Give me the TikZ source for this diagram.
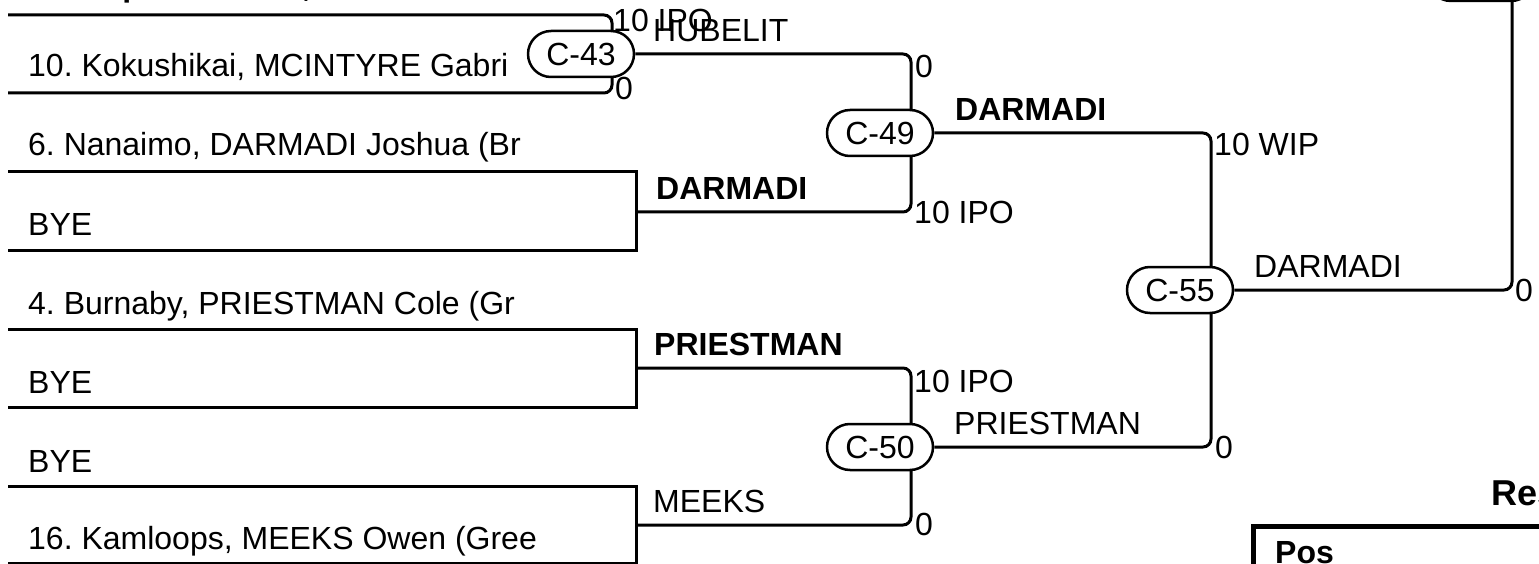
\documentclass[tikz,border=0pt]{standalone}
\usepackage{fontspec}
\setmainfont{Liberation Sans}
\usetikzlibrary{backgrounds}
\frenchspacing
\begin{document}
\begin{tikzpicture}[x=1pt,y=-1pt,
  txt/.style={anchor=base west,inner sep=0pt,font=\fontsize{32}{36}\selectfont},
  winbold/.style={txt,font=\fontsize{32}{36}\selectfont\bfseries},
  wire/.style={line width=3pt},
  fight/.style={draw,line width=2.5pt,fill=white,rounded corners=23pt,
    minimum width=106pt,minimum height=46pt,inner sep=0pt,
    font=\fontsize{32}{36}\selectfont}]
\useasboundingbox (0,0) rectangle (1539,564);
\clip (0,0) rectangle (1539,564);

\node[fight] (c43) at (581,54) {C-43};
\node[fight] (c49) at (880,133) {C-49};
\node[fight] (c50) at (880,447) {C-50};
\node[fight] (c55) at (1180,290) {C-55};
\node[fight] (cfin) at (1481,-22) {};

\begin{pgfonlayer}{background}
\draw[wire,rounded corners=8pt] (8,15) -- (612,15) -- (612,93) -- (8,93);
\draw[wire] (8,172) -- (636,172) -- (636,250) -- (8,250);
\draw[wire] (8,329) -- (636,329) -- (636,407) -- (8,407);
\draw[wire] (8,486) -- (636,486) -- (636,563) -- (8,563);
\draw[wire,rounded corners=8pt] (c43.east) -- (911,54) -- (911,212) -- (636,212);
\draw[wire,rounded corners=8pt] (636,368) -- (911,368) -- (911,525) -- (636,525);
\draw[wire,rounded corners=8pt] (c49.east) -- (1211,133) -- (1211,447) -- (c50.east);
\draw[wire,rounded corners=8pt] (c55.east) -- (1512,290) -- (1512,-22);
\end{pgfonlayer}

\node[winbold] (p1) at (28,-3) {12. Capilano Judo, HUBELIT};
\node[txt] (p2) at (28,77) {10. Kokushikai, MCINTYRE Gabri};
\node[txt] (p3) at (28,156) {6. Nanaimo, DARMADI Joshua (Br};
\node[txt] (p4) at (28,236) {BYE};
\node[txt] (p5) at (28,314) {4. Burnaby, PRIESTMAN Cole (Gr};
\node[txt] (p6) at (28,393) {BYE};
\node[txt] (p7) at (28,472) {BYE};
\node[txt] (p8) at (28,549) {16. Kamloops, MEEKS Owen (Gree};

\node[txt] (s1) at (613,32) {10 IPO};
\node[txt] (s2) at (615,100) {0};
\node[txt] (s3) at (915,78) {0};
\node[txt] (s4) at (914,223) {10 IPO};
\node[txt] (s5) at (914,392) {10 IPO};
\node[txt] (s6) at (915,535) {0};
\node[txt] (s7) at (1214,156) {10 WIP};
\node[txt] (s8) at (1215,458) {0};
\node[txt] (s9) at (1515,301) {0};

\node[txt] (w43) at (653,42) {HUBELIT};
\node[winbold] (w1a) at (656,200) {DARMADI};
\node[winbold] (w49) at (955,121) {DARMADI};
\node[winbold] (w1b) at (654,355) {PRIESTMAN};
\node[txt] (w1c) at (653,512) {MEEKS};
\node[txt] (w50) at (954,434) {PRIESTMAN};
\node[txt] (w55) at (1254,277) {DARMADI};

\draw[line width=5pt] (1253,600) -- (1253,526) -- (1600,526);
\node[winbold,font=\fontsize{36}{40}\selectfont\bfseries] (res) at (1491,505) {Results};
\node[winbold] (pos) at (1275,563) {Pos};
\end{tikzpicture}
\end{document}
